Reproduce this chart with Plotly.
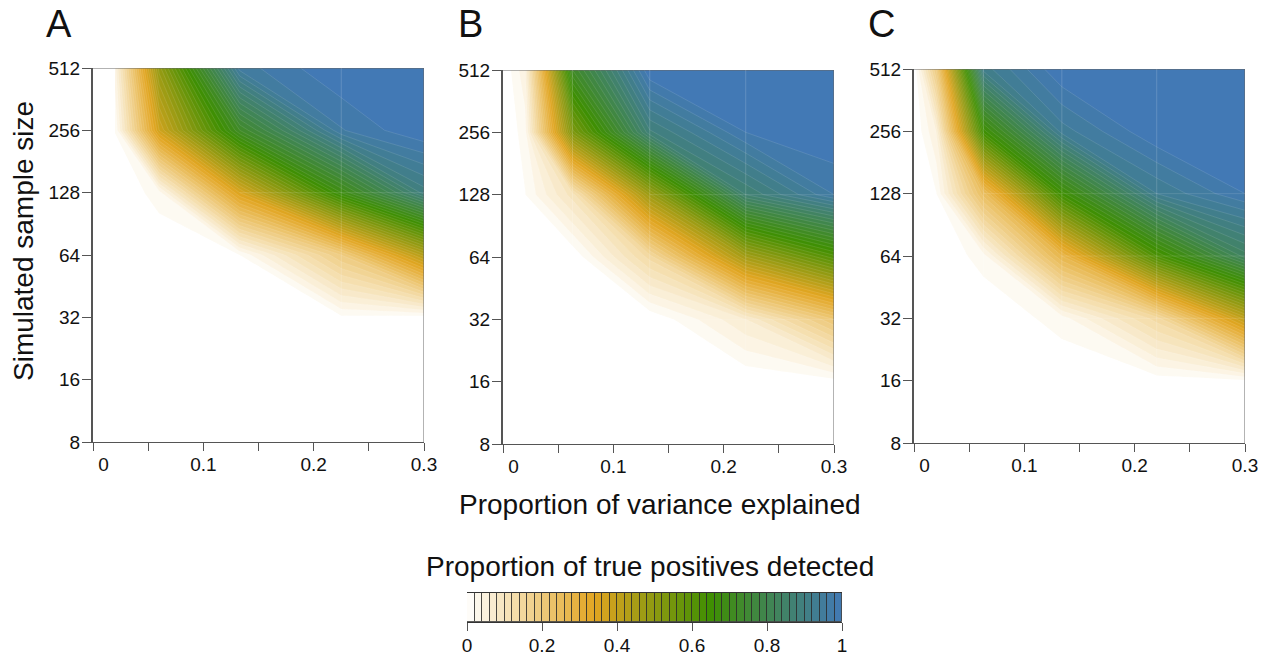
import plotly.graph_objects as go
import numpy as np

sample_sizes = [8, 16, 32, 64, 128, 256, 512]
x_ticks = [0, 0.05, 0.1, 0.15, 0.2, 0.25, 0.3]
x_ticklabels = ["\u00a0\u00a0\u00a0\u00a00", "", "0.1", "", "0.2", "", "0.3"]
cbar_ticks = [0, 0.2, 0.4, 0.6, 0.8, 1]
cbar_levels = [round(0.01 + 0.02 * i, 2) for i in range(50)]

# Power values: rows run from n=8 up to n=512, columns follow the x grid of each panel.
xgrid_a = [0.02, 0.06, 0.133, 0.225, 0.3]
z_a = [
    [0, 0, 0, 0, 0],
    [0, 0, 0, 0, 0],
    [0, 0, 0, 0.015, 0.01],
    [0, 0, 0.02, 0.2, 0.43],
    [0, 0.03, 0.36, 0.68, 0.89],
    [0.021, 0.38, 0.72, 0.958, 1.0],
    [0.05, 0.49, 0.95, 1, 1],
]
xgrid_b = [0, 0.02, 0.063, 0.133, 0.22, 0.3]
z_b = [
    [0, 0, 0, 0, 0, 0],
    [0, 0, 0, 0, 0, 0.01],
    [0, 0, 0, 0, 0.08, 0.22],
    [0, 0, 0, 0.148, 0.46, 0.61],
    [0, 0.019, 0.11, 0.473, 0.86, 0.96],
    [0, 0.03, 0.53, 0.875, 0.98, 1],
    [0, 0.055, 0.72, 1, 1, 1],
]
xgrid_c = [0, 0.02, 0.063, 0.134, 0.22, 0.3]
z_c = [
    [0, 0, 0, 0, 0, 0],
    [0, 0, 0, 0, 0.008, 0.015],
    [0, 0, 0, 0.03, 0.15, 0.41],
    [0, 0, 0.03, 0.28, 0.62, 0.83],
    [0, 0.018, 0.25, 0.65, 0.92, 0.98],
    [0, 0.06, 0.65, 0.93, 1, 1],
    [0, 0.2, 0.91, 1, 1, 1],
]

colors = [[0, "#ffffff"], [0.34, "#e2a521"], [0.65, "#3f8f02"], [1, "#4279b5"]]
FONT = "Liberation Sans"
W, H = 1270, 658
AXC = "#555555"

panels = [
    ("A", xgrid_a, z_a, (93, 424), (68, 442), (59, 24),
     [0.225], [(7, 0.133)]),
    ("B", xgrid_b, z_b, (503, 834), (70, 444), (470, 24),
     [0.063, 0.133, 0.22], [(7, 0.133), (5, 0.133)]),
    ("C", xgrid_c, z_c, (914, 1245), (69, 443), (881, 24),
     [0.063, 0.134, 0.22], [(7, 0.063), (6, 0.134), (5, 0.134)]),
]

fig = go.Figure()
shapes, annotations = [], []


def note(text, px, py, size, angle=0):
    annotations.append(dict(text=text, x=px / W, y=1 - py / H, xref="paper", yref="paper",
                            showarrow=False, xanchor="center", yanchor="middle", textangle=angle,
                            font=dict(family=FONT, size=size, color="#111111")))


log_y = np.log2(sample_sizes)
for i, (name, xg, z, xp, yp, lab, vseams, hseams) in enumerate(panels):
    s = "" if i == 0 else str(i + 1)
    fig.add_trace(go.Contour(
        x=xg, y=log_y, z=z, xaxis="x" + s, yaxis="y" + s, colorscale=colors, showscale=False,
        zmin=0, zmax=1, autocontour=False,
        contours=dict(start=0.02, end=0.98, size=0.02, coloring="fill", showlines=True),
        line=dict(color="rgba(255,255,255,0.22)", width=0.5, smoothing=0),
        hoverinfo="skip",
    ))
    fig.update_layout(**{
        "xaxis" + s: dict(domain=[xp[0] / W, xp[1] / W], range=[0, 0.3], anchor="y" + s,
                          tickmode="array", tickvals=x_ticks, ticktext=x_ticklabels,
                          ticks="outside", ticklen=8, tickwidth=1, tickcolor=AXC,
                          ticklabelstandoff=-3,
                          showgrid=False, zeroline=False, showline=True, linecolor=AXC, linewidth=1,
                          tickfont=dict(family=FONT, size=19, color="#111111")),
        "yaxis" + s: dict(domain=[1 - yp[1] / H, 1 - yp[0] / H], range=[3, 9], anchor="x" + s,
                          tickmode="array", tickvals=list(log_y), ticktext=[str(v) for v in sample_sizes],
                          ticks="outside", ticklen=9, tickwidth=1, tickcolor=AXC,
                          ticklabelstandoff=-2,
                          showgrid=False, zeroline=False, showline=True, linecolor=AXC, linewidth=2,
                          tickfont=dict(family=FONT, size=19, color="#111111")),
    })
    xr, yr = "x" + s, "y" + s
    base = dict(type="line", xref=xr, yref=yr, layer="above")
    # top and right frame
    shapes.append(dict(base, x0=0, x1=0.3, y0=9, y1=9, line=dict(color="#666666", width=1)))
    shapes.append(dict(base, x0=0.3, x1=0.3, y0=3, y1=9, line=dict(color="#666666", width=1)))
    for v in vseams:
        shapes.append(dict(base, x0=v, x1=v, y0=3, y1=9, line=dict(color="rgba(255,255,255,0.17)", width=1)))
    for row, start in hseams:
        shapes.append(dict(base, x0=start, x1=0.3, y0=row, y1=row, line=dict(color="rgba(255,255,255,0.12)", width=1)))
    note(name, lab[0], lab[1], 38)

# Legend strip
fig.add_trace(go.Bar(
    x=cbar_levels, y=[1] * len(cbar_levels), width=0.02, xaxis="x4", yaxis="y4",
    marker=dict(color=cbar_levels, colorscale=colors, cmin=0, cmax=1,
                line=dict(color="rgba(40,40,40,0.75)", width=1)),
    hoverinfo="skip", showlegend=False,
))
fig.update_layout(
    xaxis4=dict(domain=[467 / W, 842 / W], range=[0, 1], anchor="y4", tickmode="array",
                tickvals=cbar_ticks, ticktext=[str(v) for v in cbar_ticks], ticks="outside", ticklen=8,
                tickwidth=1, tickcolor=AXC, showgrid=False, zeroline=False, showline=True, mirror=True,
                linecolor="#333333", linewidth=1, ticklabelstandoff=-2,
                tickfont=dict(family=FONT, size=19, color="#111111")),
    yaxis4=dict(domain=[1 - 622 / H, 1 - 593 / H], range=[0, 1], anchor="x4", showticklabels=False,
                ticks="", showgrid=False, zeroline=False, showline=False),
)

note("Simulated sample size", 23, 241, 28, -90)
note("Proportion of variance explained", 660, 504, 28)
note("Proportion of true positives detected", 650, 566, 28)

fig.update_layout(
    width=W, height=H, margin=dict(l=0, r=0, t=0, b=0, autoexpand=False), autosize=False,
    paper_bgcolor="white", plot_bgcolor="white", showlegend=False, bargap=0,
    shapes=shapes, annotations=annotations, font=dict(family=FONT),
)
fig.write_html("out.html", config={"displayModeBar": False},
               post_script="document.body.style.margin='0';document.documentElement.style.overflow='hidden';")
